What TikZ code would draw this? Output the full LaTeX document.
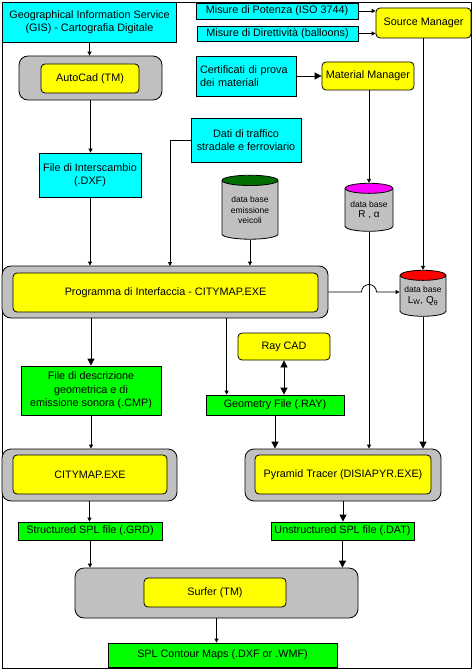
\documentclass[tikz,border=0pt]{standalone}
\usepackage{fontspec}
\setmainfont{Liberation Sans}
\usetikzlibrary{shapes.geometric,arrows.meta}

\definecolor{boxcyan}{RGB}{0,255,255}
\definecolor{boxyellow}{RGB}{255,255,0}
\definecolor{boxgreen}{RGB}{0,255,0}
\definecolor{boxgray}{RGB}{192,192,192}
\definecolor{dbgreen}{RGB}{0,110,0}
\definecolor{dbmagenta}{RGB}{255,0,255}
\definecolor{dbred}{RGB}{255,0,0}

\tikzset{
  cyanbox/.style={draw,fill=boxcyan},
  greenbox/.style={draw,fill=boxgreen},
  yellowbox/.style={draw,fill=boxyellow,rounded corners=4pt},
  graybox/.style={draw,fill=boxgray,rounded corners=9pt},
  database/.style={draw,cylinder,shape border rotate=90,aspect=0.27,
    cylinder uses custom fill,cylinder body fill=boxgray,cylinder end fill=#1,
    font=\fontsize{8.5}{10.5}\selectfont},
  arr/.style={-{Triangle[length=4pt,width=4pt]}},
  bigarr/.style={-{Triangle[length=7pt,width=7pt]}},
}

\begin{document}
\begin{tikzpicture}[x=1pt,y=-1pt,line width=0.8pt,
  every node/.style={font=\fontsize{10.8}{13.5}\selectfont,inner sep=0pt,align=center}]
\useasboundingbox (0,0) rectangle (473,671);
\draw (2,2) rectangle (471,668);

% sources
\node[cyanbox,minimum width=174pt,minimum height=40pt] (gis) at (89.5,22) {Geographical Information Service\\(GIS) - Cartografia Digitale};
\node[cyanbox,minimum width=162pt,minimum height=16pt] (potenza) at (277,11) {Misure di Potenza (ISO 3744)};
\node[cyanbox,minimum width=161pt,minimum height=15pt] (dirett) at (277.5,33.5) {Misure di Direttività (balloons)};
\node[yellowbox,minimum width=95pt,minimum height=30pt] (srcmgr) at (423.5,23) {Source Manager};

\node[graybox,minimum width=143pt,minimum height=44pt] (autoout) at (90.5,78) {};
\node[yellowbox,minimum width=98pt,minimum height=29pt] (autoin) at (90,78.5) {AutoCad (TM)};
\node[cyanbox,minimum width=100pt,minimum height=40pt,text width=92pt,align=left] (cert) at (246,76) {Certificati di prova\\dei materiali};
\node[yellowbox,minimum width=92pt,minimum height=28pt] (matmgr) at (368,76) {Material Manager};

\node[cyanbox,minimum width=102pt,minimum height=44pt] (dxf) at (90,175) {File di Interscambio\\(.DXF)};
\node[cyanbox,minimum width=110pt,minimum height=44pt] (traffic) at (246,140) {Dati di traffico\\stradale e ferroviario};

% data bases
\node[database=dbgreen,minimum width=56pt,minimum height=64pt] (veic) at (250,210) {data base\\emissione\\veicoli};
\node[database=dbmagenta,minimum width=48pt,minimum height=48pt] (cylR) at (369,210) {data base\\{\fontsize{10}{12}\selectfont R , α}};
\node[database=dbred,minimum width=46pt,minimum height=46pt] (cylL) at (423,296) {data base\\{\fontsize{10}{12}\selectfont L\textsubscript{W}, Q\textsubscript{θ}}};

% interface program
\node[graybox,minimum width=326pt,minimum height=52pt] (progout) at (165,292) {};
\node[yellowbox,minimum width=305pt,minimum height=39pt] (progin) at (165.5,292.5) {Programma di Interfaccia - CITYMAP.EXE};

\node[greenbox,minimum width=140pt,minimum height=49pt] (cmp) at (91,390.5) {File di descrizione\\geometrica e di\\emissione sonora (.CMP)};
\node[yellowbox,minimum width=92pt,minimum height=27pt] (raycad) at (284,346.5) {Ray CAD};
\node[greenbox,minimum width=138pt,minimum height=20pt] (geom) at (275,405) {Geometry File (.RAY)};

% tracers
\node[graybox,minimum width=175pt,minimum height=52pt] (cityout) at (89.5,475) {};
\node[yellowbox,minimum width=154pt,minimum height=39pt] (cityin) at (90,474.5) {CITYMAP.EXE};
\node[graybox,minimum width=196pt,minimum height=52pt] (pyrout) at (343,475) {};
\node[yellowbox,minimum width=176pt,minimum height=39pt] (pyrin) at (343,474.5) {Pyramid Tracer (DISIAPYR.EXE)};

\node[greenbox,minimum width=144pt,minimum height=18pt] (grd) at (90,531) {Structured SPL file (.GRD)};
\node[greenbox,minimum width=143pt,minimum height=18pt] (dat) at (342.5,531) {Unstructured SPL file (.DAT)};

\node[graybox,minimum width=283pt,minimum height=50pt] (surfout) at (216.5,593) {};
\node[yellowbox,minimum width=142pt,minimum height=29pt] (surfin) at (215,592.5) {Surfer (TM)};
\node[greenbox,minimum width=229pt,minimum height=24pt] (contour) at (222.5,655) {SPL Contour Maps (.DXF or .WMF)};

\coordinate (trafdrop) at (170,266);
\coordinate (geomtap) at ([xshift=21pt]geom.north west);

% connectors
\draw[arr] (gis.south) -- (gis.south |- autoout.north);
\draw[arr] (potenza.east) -- (potenza.east -| srcmgr.west);
\draw[arr] (dirett.east) -- (dirett.east -| srcmgr.west);
\draw[bigarr] (cert.east) -- (cert.east -| matmgr.west);
\draw[arr] (autoout.south) -- (autoout.south |- dxf.north);
\draw[arr] (dxf.south) -- (dxf.south |- progout.north);
\draw[arr] (traffic.west) -| (trafdrop);
\draw[arr] (veic.south) -- (veic.south |- progout.north);
\draw[arr] (matmgr.south -| cylR.north) -- (cylR.north);
\draw[arr] (srcmgr.south -| cylL.north) -- (cylL.north);
\draw[arr] (progout.east) -- ([xshift=-7.5pt]progout.east -| cylR.center) arc[start angle=180,end angle=0,radius=7.5pt] -- (progout.east -| cylL.west);
\draw[bigarr] (progout.south -| cmp.north) -- (cmp.north);
\draw[arr] (progout.south -| geomtap) -- (geomtap);
\draw[{Triangle[length=7pt,width=7pt]}-{Triangle[length=7pt,width=7pt]}] (raycad.south) -- (raycad.south |- geom.north);
\draw[arr] (cmp.south) -- (cmp.south |- cityout.north);
\draw[bigarr] (geom.south) -- (geom.south |- pyrout.north);
\draw[arr] (cylR.south) -- (cylR.south |- pyrout.north);
\draw[bigarr] (cylL.south) -- (cylL.south |- pyrout.north);
\draw[arr] (cityout.south) -- (cityout.south |- grd.north);
\draw[bigarr] (pyrout.south) -- (pyrout.south |- dat.north);
\draw[arr] (grd.south) -- (grd.south |- surfout.north);
\draw[bigarr] (dat.south) -- (dat.south |- surfout.north);
\draw[arr] (surfout.south) -- (surfout.south |- contour.north);
\end{tikzpicture}
\end{document}
